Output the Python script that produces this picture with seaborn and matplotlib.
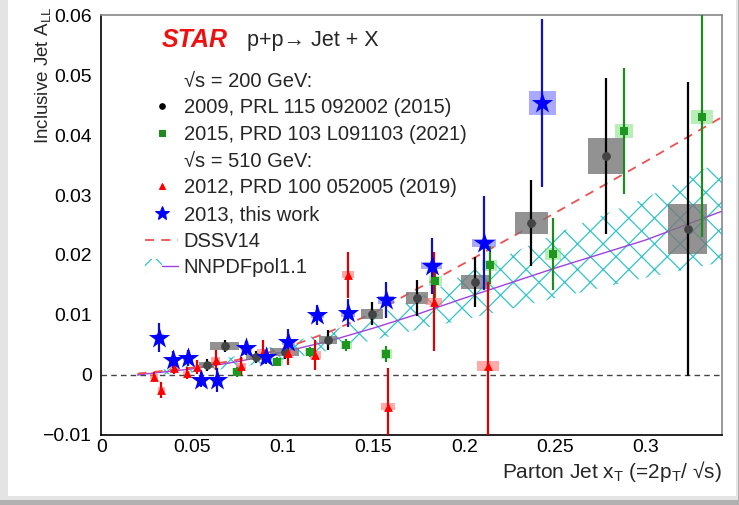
import numpy as np
import pandas as pd
import matplotlib
matplotlib.use("Agg")
import matplotlib.pyplot as plt
import matplotlib.patches as mpatches
from matplotlib.lines import Line2D
from matplotlib.legend_handler import HandlerTuple
from matplotlib.ticker import MultipleLocator, FuncFormatter
import seaborn as sns

# ---------------- data ----------------
# 2009, sqrt(s)=200 GeV (black)
x09 = [0.058, 0.068, 0.085, 0.101, 0.125, 0.149, 0.174, 0.206, 0.237, 0.278, 0.323]
y09 = [0.0017, 0.0048, 0.0030, 0.0038, 0.0058, 0.0102, 0.0128, 0.0155, 0.0253, 0.0365, 0.0243]
stat09 = [0.0010, 0.0010, 0.0010, 0.0012, 0.0017, 0.0019, 0.0030, 0.0042, 0.0072, 0.0130, 0.0245]
sysx09 = [0.004, 0.008, 0.005, 0.008, 0.005, 0.006, 0.006, 0.008, 0.0093, 0.010, 0.0107]
sysy09 = [0.0005, 0.0006, 0.0005, 0.0006, 0.0007, 0.0008, 0.0010, 0.0012, 0.0018, 0.0030, 0.0042]

# 2015, sqrt(s)=200 GeV (green)
x15 = [0.075, 0.097, 0.115, 0.135, 0.157, 0.184, 0.214, 0.249, 0.288, 0.331]
y15 = [0.0005, 0.0022, 0.0038, 0.0050, 0.0035, 0.0157, 0.0183, 0.0202, 0.0407, 0.0430]
stat15 = [0.0008, 0.0008, 0.0009, 0.0010, 0.0013, 0.0028, 0.0032, 0.0060, 0.0105, 0.0200]
sysx15 = [0.003, 0.003, 0.003, 0.003, 0.003, 0.0035, 0.004, 0.0045, 0.005, 0.006]
sysy15 = [0.0006, 0.0006, 0.0006, 0.0007, 0.0008, 0.0008, 0.0009, 0.0010, 0.0012, 0.0012]

# 2012, sqrt(s)=510 GeV (red)
x12 = [0.029, 0.033, 0.040, 0.047, 0.053, 0.063, 0.077, 0.089, 0.103, 0.118, 0.136, 0.158, 0.1835, 0.213]
y12 = [-0.0003, -0.0025, 0.0012, 0.0003, 0.0013, 0.0025, 0.0015, 0.0038, 0.0037, 0.0033, 0.0167, -0.0053, 0.0122, 0.0015]
stat12 = [0.0007, 0.0013, 0.0010, 0.0010, 0.0012, 0.0017, 0.0015, 0.0020, 0.0020, 0.0025, 0.0038, 0.0065, 0.0083, 0.0140]
sysx12 = [0.002, 0.002, 0.002, 0.002, 0.002, 0.0025, 0.0025, 0.003, 0.003, 0.003, 0.0035, 0.004, 0.0045, 0.006]
sysy12 = [0.0004, 0.0004, 0.0004, 0.0004, 0.0004, 0.0005, 0.0005, 0.0005, 0.0005, 0.0006, 0.0006, 0.0006, 0.0006, 0.0008]

# 2013, sqrt(s)=510 GeV, this work (blue)
x13 = [0.032, 0.0396, 0.0478, 0.055, 0.064, 0.080, 0.091, 0.103, 0.119, 0.136, 0.157, 0.182, 0.211, 0.243]
y13 = [0.0062, 0.0025, 0.0028, -0.0008, -0.0008, 0.0045, 0.0030, 0.0055, 0.0100, 0.0103, 0.0125, 0.0182, 0.0220, 0.0453]
stat13 = [0.0024, 0.0014, 0.0014, 0.0013, 0.0020, 0.0012, 0.0012, 0.0022, 0.0017, 0.0024, 0.0030, 0.0047, 0.0079, 0.0140]
sysx13 = [0.0025, 0.0025, 0.0025, 0.0025, 0.003, 0.003, 0.003, 0.0035, 0.0035, 0.004, 0.0045, 0.006, 0.0066, 0.0075]
sysy13 = [0.0006, 0.0005, 0.0005, 0.0005, 0.0005, 0.0005, 0.0005, 0.0005, 0.0005, 0.0006, 0.0006, 0.0006, 0.0006, 0.0020]

# theory curves
xth = [0.02, 0.05, 0.075, 0.10, 0.125, 0.15, 0.175, 0.20, 0.25, 0.30, 0.342]
dssv = [0.0002, 0.0012, 0.0025, 0.0043, 0.0071, 0.0103, 0.0145, 0.0186, 0.0270, 0.0356, 0.0430]
nnpdf = [0.0000, 0.0010, 0.0022, 0.0038, 0.0056, 0.0078, 0.0102, 0.0128, 0.0178, 0.0225, 0.0273]
nnpdf_lo = [-0.0003, 0.0004, 0.0012, 0.0025, 0.0040, 0.0058, 0.0076, 0.0092, 0.0128, 0.0162, 0.0188]
nnpdf_hi = [0.0003, 0.0016, 0.0032, 0.0051, 0.0072, 0.0098, 0.0128, 0.0168, 0.0235, 0.0295, 0.0358]

labels = ["√s = 200 GeV:", "2009, PRL 115 092002 (2015)", "2015, PRD 103 L091103 (2021)",
          "√s = 510 GeV:", "2012, PRD 100 052005 (2019)", "2013, this work", "DSSV14", "NNPDFpol1.1"]

# ---------------- style ----------------
DPI = 77                # chosen so the hatch cell matches the reference density
K = 100.0 / DPI         # point-size scale so text keeps its pixel size
sns.set_theme(style="white")
FAM = ["Liberation Sans", "DejaVu Sans"]
plt.rcParams["font.family"] = FAM
plt.rcParams["mathtext.fontset"] = "custom"
plt.rcParams["mathtext.rm"] = "Liberation Sans"
plt.rcParams["mathtext.it"] = "Liberation Sans:italic"
plt.rcParams["hatch.linewidth"] = 0.9 * K

fig = plt.figure(figsize=(739 / DPI, 505 / DPI), dpi=DPI)
fig.patch.set_facecolor("#b0b0b0")
# screenshot card with soft shadow
fig.patches.append(mpatches.Rectangle((0.0, 0.010), 0.998, 0.990, transform=fig.transFigure,
                                      facecolor="#e4e4e4", edgecolor="none", zorder=-3))
fig.patches.append(mpatches.Rectangle((0.011, 0.017), 0.985, 0.983, transform=fig.transFigure,
                                      facecolor="white", edgecolor="none", zorder=-2))

ax = fig.add_axes([0.137, 0.139, 0.840, 0.831])
ax.set_facecolor("white")

def draw_series(xs, ys, st, sx, sy, box_color, box_alpha, err_color, mk_color, marker, msize):
    xs, ys, st, sx, sy = map(np.asarray, (xs, ys, st, sx, sy))
    ax.bar(xs, 2 * sy, bottom=ys - sy, width=2 * sx, color=box_color, alpha=box_alpha,
           linewidth=0, zorder=2)
    ax.errorbar(xs, ys, yerr=st, fmt="none", ecolor=err_color, elinewidth=1.6 * K, capsize=0, zorder=3)
    df = pd.DataFrame({"x": xs, "y": ys})
    sns.scatterplot(data=df, x="x", y="y", ax=ax, color=mk_color, marker=marker, s=msize * K * K,
                    linewidth=0, zorder=4, legend=False)

# theory band + curves
ax.fill_between(xth, nnpdf_lo, nnpdf_hi, facecolor="none", edgecolor="#33c4c8", hatch="x",
                linewidth=0, zorder=1)
sns.lineplot(x=xth, y=nnpdf, ax=ax, color="#a040e0", linewidth=1.0 * K, zorder=1.5)
sns.lineplot(x=xth, y=dssv, ax=ax, color="#f05050", linewidth=1.3 * K, linestyle=(0, (5, 4)), zorder=1.5)

ax.axhline(0, color="#444444", linewidth=1.0 * K, linestyle=(0, (4, 3)), zorder=1)

draw_series(x09, y09, stat09, sysx09, sysy09, "#777777", 0.8, "black", "#444444", "o", 40)
draw_series(x15, y15, stat15, sysx15, sysy15, "#7ee07e", 0.55, "#1f8a1f", "#1f961f", "s", 40)
draw_series(x12, y12, stat12, sysx12, sysy12, "#ff7070", 0.6, "#e00000", "#ff0000", "^", 40)
draw_series(x13, y13, stat13, sysx13, sysy13, "#7070ff", 0.6, "#1010c0", "#0000ff", "*", 260)

# ---------------- axes ----------------
ax.set_xlim(0, 0.342)
ax.set_ylim(-0.01, 0.06)
ax.xaxis.set_major_locator(MultipleLocator(0.05))
ax.xaxis.set_minor_locator(MultipleLocator(0.01))
ax.yaxis.set_major_locator(MultipleLocator(0.01))
ax.yaxis.set_minor_locator(MultipleLocator(0.002))
fmt = FuncFormatter(lambda v, p: ("%g" % round(v, 4)).replace("-", "\u2212"))
ax.xaxis.set_major_formatter(fmt)
ax.yaxis.set_major_formatter(fmt)
ax.tick_params(which="both", direction="in", top=False, right=False, labelsize=14 * K, colors="black")
ax.tick_params(axis="y", which="major", length=9 * K, width=1 * K, pad=7 * K)
ax.tick_params(axis="y", which="minor", length=4.5 * K, width=1 * K)
ax.tick_params(axis="x", which="major", length=9 * K, width=1 * K, pad=3 * K)
ax.tick_params(axis="x", which="minor", length=4.5 * K, width=1 * K)
for s in ["left", "bottom"]:
    ax.spines[s].set_color("black")
    ax.spines[s].set_linewidth(1.2 * K)
for s in ["top", "right"]:
    ax.spines[s].set_color("#888888")
    ax.spines[s].set_linewidth(1.2 * K)

ax.set_xlabel("Parton Jet x$_\\mathrm{T}$ (=2p$_\\mathrm{T}$/ √s)", fontsize=15 * K, loc="right")
ax.xaxis.set_label_coords(1.0, -0.058)
ax.set_ylabel("Inclusive Jet A$_\\mathrm{LL}$", fontsize=13.5 * K, loc="top")
ax.yaxis.set_label_coords(-0.078, 1.02)

# title
ax.text(0.097, 0.94, "STAR", transform=ax.transAxes, color="#ee1111", fontsize=18 * K,
        fontweight="bold", fontstyle="italic", va="center", ha="left")
ax.text(0.235, 0.94, "p+p→ Jet + X", transform=ax.transAxes, fontsize=15.5 * K,
        va="center", ha="left", family=FAM)

# legend
blank = Line2D([], [], linestyle="none", marker=None)
h09 = Line2D([], [], linestyle="none", marker="o", color="black", markersize=4 * K)
h15 = Line2D([], [], linestyle="none", marker="s", color="#1f8a1f", markersize=4 * K)
h12 = Line2D([], [], linestyle="none", marker="^", color="#ff0000", markersize=4 * K)
h13 = Line2D([], [], linestyle="none", marker="*", color="#0000ff", markersize=10 * K)
hds = Line2D([], [], color="#f05050", linewidth=1.3 * K, linestyle=(0, (5, 4)))
hnn = (mpatches.Patch(facecolor="none", edgecolor="#33c4c8", hatch="x", linewidth=0),
       Line2D([], [], color="#a040e0", linewidth=1.0 * K))
leg = ax.legend([blank, h09, h15, blank, h12, h13, hds, hnn], labels,
                loc="upper left", bbox_to_anchor=(0.055, 0.889), frameon=False,
                fontsize=14.5 * K, handlelength=1.6, handletextpad=0.3, labelspacing=0.38,
                borderpad=0, handler_map={tuple: HandlerTuple(ndivide=None)})

fig.savefig("out.png", dpi=DPI, facecolor=fig.get_facecolor())
